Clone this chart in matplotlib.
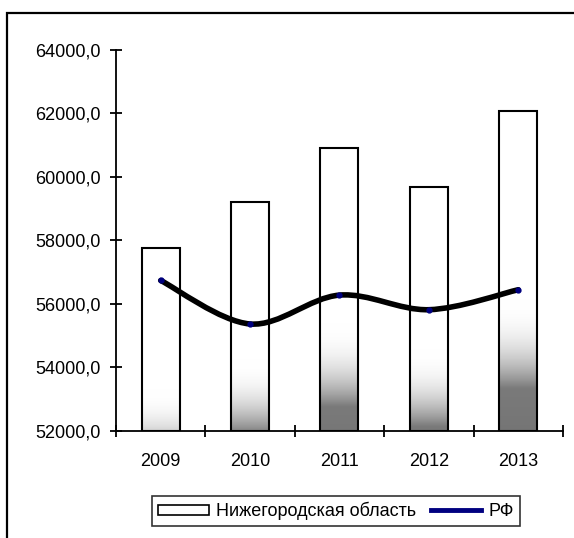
import numpy as np
import matplotlib.pyplot as plt
from matplotlib.path import Path
from matplotlib.patches import PathPatch, Rectangle
from matplotlib.lines import Line2D

plt.rcParams['font.family'] = ['Liberation Sans', 'DejaVu Sans']

years = ['2009', '2010', '2011', '2012', '2013']
region = [57750, 59200, 60920, 59670, 62070]   # Нижегородская область
rf = [56740, 55370, 56280, 55820, 56450]       # РФ
yticks = [52000, 54000, 56000, 58000, 60000, 62000, 64000]

fig = plt.figure(figsize=(5.74, 5.38), dpi=100)
ax = fig.add_axes([0.2021, 0.1989, 0.7787, 0.7082])

x = np.arange(len(years))
w = 0.425
ymin, ymax = 52000, 64000
grad_base = 44600  # gradient of the bar fill runs from this level to the bar top


def grey_level(t):
    # white on the upper part of the bar, easing into grey toward the base
    s = np.clip((0.66 - t) / 0.16, 0, 1)
    g = 255 - 133 * s ** 2.3
    g = np.where(t < 0.5, 122 - 60 * (0.5 - t), g)
    return np.clip(g, 112, 255) / 255.0


for xi, v in zip(x, region):
    rows = np.linspace(ymin, v, 300)
    g = np.repeat(grey_level((rows - grad_base) / (v - grad_base))[:, None], 2, axis=1)
    img = np.dstack([g, g, g])
    ax.imshow(img, extent=[xi - w / 2, xi + w / 2, ymin, v], origin='lower',
              aspect='auto', zorder=1, interpolation='bilinear')
ax.bar(x, np.array(region) - ymin, bottom=ymin, width=w, facecolor='none',
       edgecolor='black', linewidth=1.5, zorder=2)

# smoothed line (Bezier through the points, like Excel's smoothing)
pts = np.column_stack([x, rf]).astype(float)
ext = np.vstack([pts[0], pts, pts[-1]])
verts = [tuple(pts[0])]
codes = [Path.MOVETO]
for i in range(len(pts) - 1):
    p0, p1, p2, p3 = ext[i], ext[i + 1], ext[i + 2], ext[i + 3]
    c1 = p1 + (p2 - p0) / 6
    c2 = p2 - (p3 - p1) / 6
    verts += [tuple(c1), tuple(c2), tuple(p2)]
    codes += [Path.CURVE4] * 3
ax.add_patch(PathPatch(Path(verts, codes), facecolor='none', edgecolor='black',
                       linewidth=4.0, zorder=3, capstyle='round'))
ax.plot(x, rf, linestyle='none', marker='o', markersize=3.5, color='#000080', zorder=4)

ax.set_xlim(-0.5, len(years) - 0.5)
ax.set_ylim(ymin, ymax)
ax.set_yticks(yticks)
ax.set_yticklabels([f'{v:.1f}'.replace('.', ',') for v in yticks], fontsize=13)
ax.set_xticks(x)
ax.set_xticklabels(years, fontsize=13)
ax.set_xticks(np.arange(len(years) + 1) - 0.5, minor=True)
ax.tick_params(axis='x', which='major', length=0, pad=16)
ax.tick_params(axis='x', which='minor', direction='inout', length=8, width=1.3)
ax.tick_params(axis='y', direction='inout', length=8, width=1.3, pad=7)
for s in ['top', 'right']:
    ax.spines[s].set_visible(False)
for s in ['left', 'bottom']:
    ax.spines[s].set_linewidth(1.3)

handles = [Rectangle((0, 0), 1, 1, facecolor='white', edgecolor='black', linewidth=1.2),
           Line2D([], [], color='#000080', linewidth=3.5)]
leg = fig.legend(handles, ['Нижегородская область', 'РФ'], loc='center',
                 bbox_to_anchor=(336 / 574, 1 - 511 / 538), ncol=2, fontsize=13,
                 frameon=True, fancybox=False, edgecolor='black', handlelength=2.8,
                 handleheight=0.5, columnspacing=0.8, handletextpad=0.4,
                 borderpad=0.35)
leg.get_frame().set_linewidth(1.2)

# outer chart frame
fig.patches.append(Rectangle((7 / 574, -0.1), 1.2, 1 - 13 / 538 + 0.1,
                             transform=fig.transFigure, facecolor='none',
                             edgecolor='black', linewidth=1.6))

fig.savefig('out.png', dpi=100)
